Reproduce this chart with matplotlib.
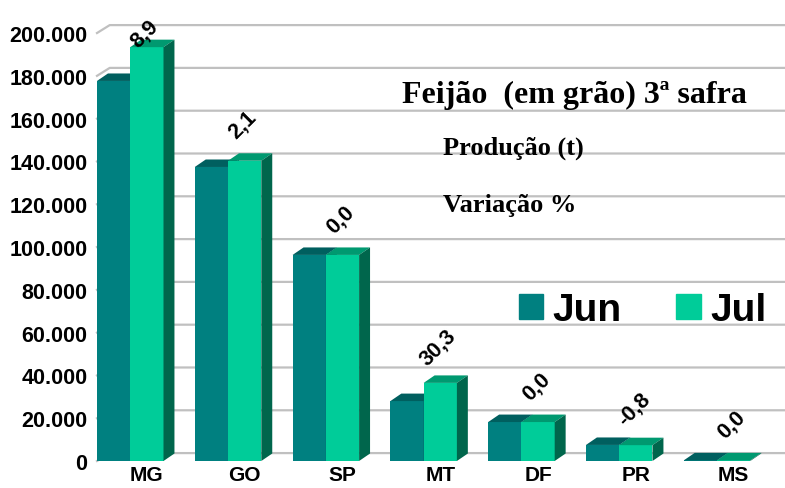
import numpy as np
import matplotlib
matplotlib.use('Agg')
import matplotlib.pyplot as plt
from matplotlib.patches import Polygon, Patch

# data (t)
estados = ['MG', 'GO', 'SP', 'MT', 'DF', 'PR', 'MS']
jun = [177600, 137400, 96300, 28000, 18200, 7500, 300]
jul = [193400, 140300, 96300, 36500, 18200, 7400, 300]
variacao = ['8,9', '2,1', '0,0', '30,3', '0,0', '-0,8', '0,0']
yticks = list(range(0, 200001, 20000))

c_jun = '#008080'
c_jun_top = '#005F5F'
c_jun_side = '#006666'
c_jul = '#00CC99'
c_jul_top = '#009970'
c_jul_side = '#00664C'

W, H = 785, 489
fig = plt.figure(figsize=(W / 100, H / 100), dpi=100)
ax = fig.add_axes([97 / W, 27 / H, 688 / W, 462 / H])
xmin, xmax = -0.34, 6.695
ax.set_xlim(xmin, xmax)
ax.set_ylim(0, 215900)
for s in ax.spines.values():
    s.set_visible(False)

bw = 0.34
dx = 0.112
dy = 3500
gdx = 0.13
gdy = 3700

# gridlines on back wall with floor slant
for t in yticks:
    ax.plot([xmin, xmin + gdx, xmax], [t, t + gdy, t + gdy],
            color='#C0C0C0', lw=1.6, zorder=1, clip_on=False)

x = np.arange(len(estados))


def bar3d(left, h, front, top, side):
    ax.bar(left, h, width=bw, align='edge', color=front, zorder=3)
    ax.add_patch(Polygon([(left, h), (left + dx, h + dy), (left + bw + dx, h + dy),
                          (left + bw, h)], closed=True, color=top, zorder=3, lw=0))
    ax.add_patch(Polygon([(left + bw, 0), (left + bw + dx, dy), (left + bw + dx, h + dy),
                          (left + bw, h)], closed=True, color=side, zorder=3, lw=0))


for i in x:
    bar3d(i - bw, jun[i], c_jun, c_jun_top, c_jun_side)
    bar3d(i, jul[i], c_jul, c_jul_top, c_jul_side)
    ytxt = min(max(jun[i], jul[i]) + 17000, 200000)
    ax.text(i + 0.15, ytxt, variacao[i], rotation=45, ha='center', va='center',
            fontsize=15.5, fontweight='bold', family='Liberation Sans', zorder=5)

ax.set_yticks(yticks)
ax.set_yticklabels([f'{t:,}'.replace(',', '.') for t in yticks],
                   fontsize=15.5, fontweight='bold', family='Liberation Sans')
ax.set_xticks(x + 0.17)
ax.set_xticklabels(estados, fontsize=15, fontweight='bold', family='Liberation Sans')
ax.tick_params(axis='both', length=0)
ax.tick_params(axis='y', pad=7)
ax.tick_params(axis='x', pad=3)

serif = 'Liberation Serif'
fig.text(402 / W, 1 - 103 / H, 'Feijão  (em grão) 3ª safra', ha='left', va='baseline',
         fontsize=23, fontweight='bold', family=serif)
fig.text(443 / W, 1 - 155 / H, 'Produção (t)', ha='left', va='baseline',
         fontsize=19, fontweight='bold', family=serif)
fig.text(443 / W, 1 - 212 / H, 'Variação %', ha='left', va='baseline',
         fontsize=19, fontweight='bold', family=serif)

handles = [Patch(color=c_jun, label='Jun'), Patch(color=c_jul, label='Jul')]
fig.legend(handles=handles, loc='center left', bbox_to_anchor=(519 / W, 1 - 311 / H),
           ncol=2, frameon=False, borderpad=0, borderaxespad=0,
           handlelength=0.62, handleheight=0.62,
           handletextpad=0.25, columnspacing=1.4,
           prop={'family': 'Liberation Sans', 'weight': 'bold', 'size': 28})

fig.savefig('out.png', dpi=100)
